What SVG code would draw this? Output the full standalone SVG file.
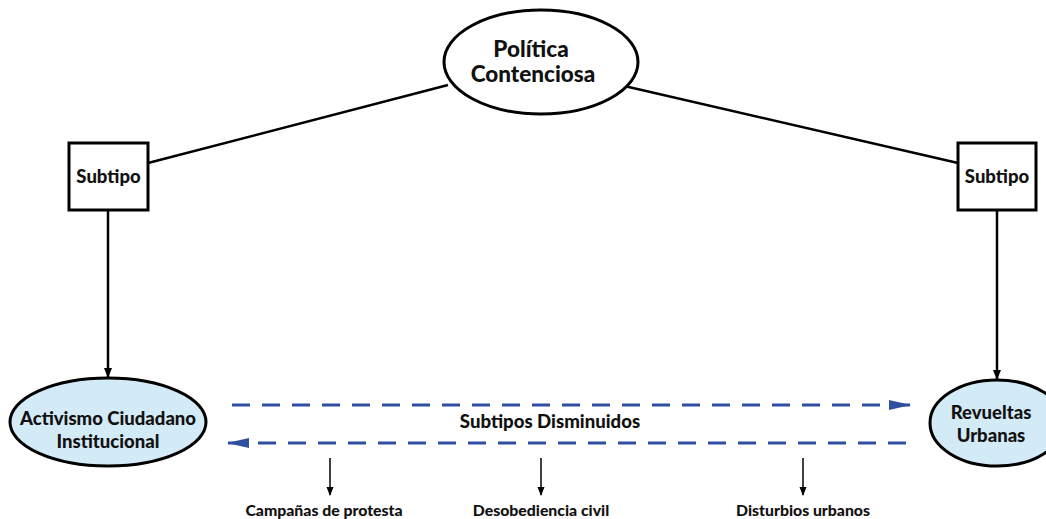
<svg xmlns="http://www.w3.org/2000/svg" width="1046" height="519" viewBox="0 0 1046 519">
<style>
text{font-family:Lato,"Liberation Sans",sans-serif;font-weight:900;fill:#111;text-anchor:middle}
.node{stroke:#000;stroke-width:3}
.blue{fill:#d3eaf7}
.line{stroke:#000;stroke-width:2.5;fill:none}
.thin{stroke:#000;stroke-width:1.5;fill:none}
.dash{stroke:#2f4f9f;stroke-width:3;stroke-dasharray:18 12;fill:none}
</style>
<defs>
<marker id="ah" markerWidth="10" markerHeight="10" refX="9" refY="5" orient="auto" markerUnits="userSpaceOnUse"><path d="M0,1 L10,5 L0,9 z" fill="#000"/></marker>
<marker id="ahs" markerWidth="9" markerHeight="8" refX="8" refY="4" orient="auto" markerUnits="userSpaceOnUse"><path d="M0,0.5 L9,4 L0,7.5 z" fill="#000"/></marker>
<marker id="ahb" markerWidth="22" markerHeight="12" refX="21" refY="6" orient="auto" markerUnits="userSpaceOnUse"><path d="M0,1 L22,6 L0,11 z" fill="#2f4f9f"/></marker>
</defs>
<g id="connectors">
<line class="line" x1="148" y1="163" x2="448" y2="85"/>
<line class="line" x1="620" y1="85" x2="958" y2="163"/>
<line class="line" x1="108" y1="210" x2="108" y2="377" marker-end="url(#ah)"/>
<line class="line" x1="997" y1="210" x2="997" y2="379" marker-end="url(#ah)"/>
<line class="dash" x1="232" y1="405" x2="910" y2="405" marker-end="url(#ahb)"/>
<line class="dash" x1="906" y1="443" x2="228" y2="443" marker-end="url(#ahb)"/>
<line class="thin" x1="330" y1="458" x2="330" y2="495" marker-end="url(#ahs)"/>
<line class="thin" x1="541" y1="458" x2="541" y2="495" marker-end="url(#ahs)"/>
<line class="thin" x1="803" y1="458" x2="803" y2="495" marker-end="url(#ahs)"/>
<text x="550" y="428" font-size="18.6">Subtipos Disminuidos</text>
<text x="324" y="516" font-size="15.8">Campañas de protesta</text>
<text x="541" y="516" font-size="15.8">Desobediencia civil</text>
<text x="803" y="516" font-size="15.8">Disturbios urbanos</text>
</g>
<g id="politica">
<ellipse class="node" cx="541" cy="62" rx="97" ry="52" fill="#fff"/>
<text x="531" y="57" font-size="22.5">Política</text>
<text x="533" y="82" font-size="22.5">Contenciosa</text>
</g>
<g id="subtipo-left">
<rect class="node" x="69" y="143" width="79" height="67" fill="#fff"/>
<text x="108.5" y="183" font-size="18.5">Subtipo</text>
</g>
<g id="subtipo-right">
<rect class="node" x="958" y="143" width="78" height="67" fill="#fff"/>
<text x="997" y="183" font-size="18.5">Subtipo</text>
</g>
<g id="activismo">
<ellipse class="node blue" cx="108" cy="422" rx="98" ry="44"/>
<text x="108" y="425" font-size="18.5">Activismo Ciudadano</text>
<text x="108" y="448" font-size="18.5">Institucional</text>
</g>
<g id="revueltas">
<ellipse class="node blue" cx="997" cy="423" rx="67" ry="43"/>
<text x="991" y="419" font-size="18.5">Revueltas</text>
<text x="991" y="442" font-size="18.5">Urbanas</text>
</g>
</svg>
